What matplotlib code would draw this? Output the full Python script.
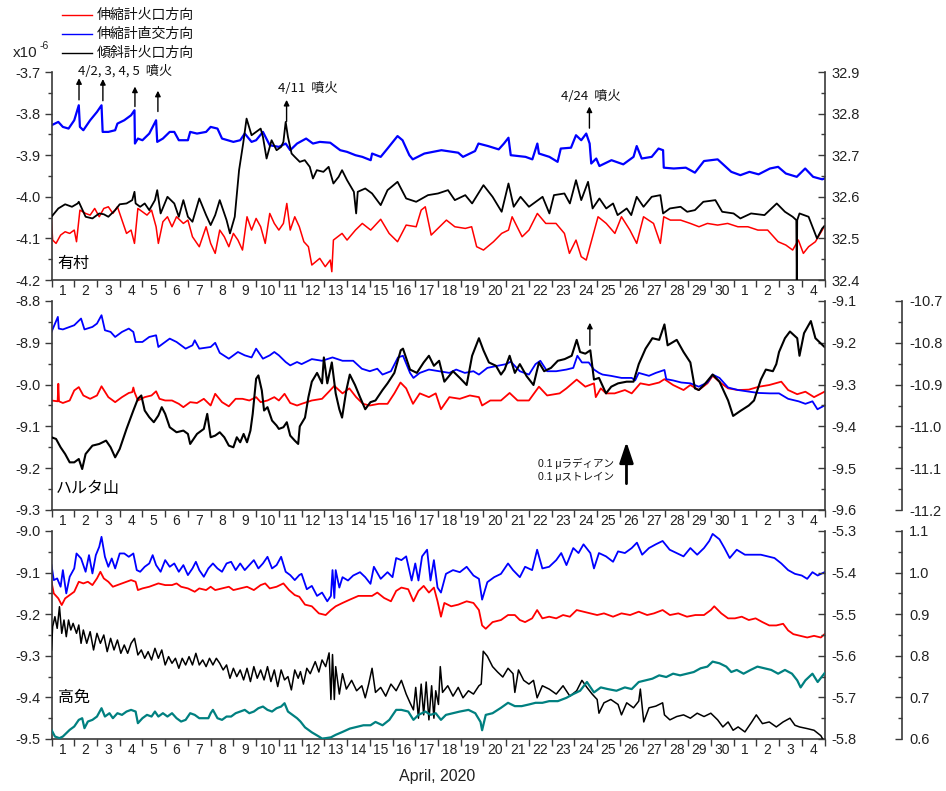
import matplotlib
matplotlib.use("Agg")
import matplotlib.pyplot as plt
from matplotlib.lines import Line2D
from matplotlib.ticker import FixedLocator, FixedFormatter, NullFormatter, FormatStrFormatter

plt.rcParams['font.family'] = ['Liberation Sans', 'Noto Sans CJK JP']
plt.rcParams['axes.unicode_minus'] = False

RED = '#ff0000'
BLUE = '#0000ff'
BLACK = '#000000'
TEAL = '#008080'
SPINE = '#3a3a3a'

N_DAYS = 34
DAY_LABELS = [str(d) for d in range(1, 31)] + ['1', '2', '3', '4']
LEGEND_LABELS = ['伸縮計火口方向', '伸縮計直交方向', '傾斜計火口方向']
STATIONS = ['有村', 'ハルタ山', '高免']

# Time is in days since 2020-04-01 00:00.
# ---------------- 有村 ----------------
ARIMURA_RED = [
    (0, -4.056), (0.05, -4.104), (0.2, -4.112), (0.4, -4.092), (0.6, -4.084), (0.8, -4.088),
    (1.0, -4.08), (1.1, -4.108), (1.25, -4.032), (1.5, -4.04), (1.7, -4.044), (1.9, -4.028),
    (2.1, -4.048), (2.3, -4.028), (2.5, -4.024), (2.7, -4.04), (2.9, -4.024), (3.1, -4.056),
    (3.3, -4.088), (3.5, -4.08), (3.65, -4.112), (3.8, -4.028), (4.0, -4.036), (4.2, -4.044),
    (4.4, -4.032), (4.6, -4.072), (4.7, -4.112), (4.9, -4.06), (5.1, -4.048), (5.3, -4.072),
    (5.5, -4.048), (5.8, -4.064), (6.0, -4.056), (6.2, -4.096), (6.5, -4.12), (6.8, -4.072),
    (7.0, -4.112), (7.2, -4.136), (7.4, -4.08), (7.6, -4.096), (7.8, -4.12), (8.0, -4.088),
    (8.2, -4.104), (8.4, -4.128), (8.6, -4.048), (8.8, -4.08), (9.0, -4.052), (9.2, -4.072),
    (9.4, -4.112), (9.6, -4.04), (9.8, -4.064), (10.0, -4.08), (10.2, -4.064), (10.35, -4.016),
    (10.5, -4.08), (10.7, -4.048), (10.9, -4.072), (11.1, -4.108), (11.3, -4.12), (11.45, -4.164),
    (11.8, -4.148), (12.04, -4.168), (12.26, -4.152), (12.33, -4.18), (12.4, -4.104), (12.78, -4.088),
    (13.0, -4.104), (13.37, -4.08), (13.67, -4.064), (14.04, -4.08), (14.48, -4.054), (14.85, -4.088),
    (15.22, -4.108), (15.6, -4.068), (16.04, -4.072), (16.26, -4.032), (16.44, -4.024), (16.7, -4.092),
    (17.0, -4.076), (17.37, -4.056), (17.74, -4.072), (18.2, -4.076), (18.48, -4.072), (18.7, -4.12),
    (19.0, -4.128), (19.44, -4.108), (19.8, -4.088), (20.1, -4.08), (20.26, -4.048), (20.7, -4.096),
    (21.0, -4.08), (21.37, -4.04), (21.74, -4.064), (22.19, -4.064), (22.56, -4.088), (22.78, -4.136),
    (23.07, -4.104), (23.3, -4.144), (23.52, -4.152), (23.74, -4.108), (24.04, -4.048), (24.4, -4.064),
    (24.78, -4.088), (25.07, -4.048), (25.44, -4.08), (25.74, -4.112), (26.04, -4.048), (26.48, -4.064),
    (26.78, -4.112), (26.93, -4.048), (27.22, -4.056), (27.67, -4.056), (28.1, -4.064), (28.48, -4.072),
    (28.85, -4.064), (29.3, -4.068), (29.74, -4.064), (30.19, -4.072), (30.63, -4.072), (31.07, -4.08),
    (31.5, -4.08), (31.96, -4.108), (32.3, -4.116), (32.6, -4.128), (32.85, -4.104), (33.07, -4.136),
    (33.3, -4.12), (33.6, -4.108), (33.9, -4.08), (34.0, -4.07),
]
ARIMURA_BLUE = [
    (0, -3.828), (0.3, -3.82), (0.5, -3.832), (0.75, -3.836), (1.0, -3.816), (1.2, -3.78),
    (1.25, -3.832), (1.4, -3.84), (1.7, -3.816), (2.0, -3.796), (2.2, -3.78), (2.25, -3.844),
    (2.5, -3.844), (2.8, -3.84), (2.9, -3.824), (3.2, -3.816), (3.5, -3.804), (3.65, -3.792),
    (3.67, -3.872), (3.8, -3.86), (4.0, -3.864), (4.3, -3.848), (4.6, -3.816), (4.65, -3.868),
    (4.9, -3.86), (5.2, -3.844), (5.4, -3.844), (5.6, -3.864), (6.0, -3.864), (6.1, -3.844),
    (6.4, -3.848), (6.8, -3.844), (7.0, -3.832), (7.3, -3.836), (7.5, -3.86), (8.0, -3.868),
    (8.3, -3.864), (8.5, -3.848), (8.8, -3.868), (9.0, -3.864), (9.3, -3.844), (9.6, -3.876),
    (10.0, -3.88), (10.3, -3.872), (10.5, -3.888), (10.8, -3.872), (11.2, -3.86), (11.5, -3.872),
    (11.8, -3.868), (12.26, -3.87), (12.7, -3.888), (13.0, -3.892), (13.37, -3.9), (13.67, -3.904),
    (14.04, -3.912), (14.1, -3.896), (14.48, -3.904), (14.78, -3.884), (15.22, -3.854), (15.44, -3.864),
    (15.74, -3.9), (15.89, -3.91), (16.4, -3.896), (17.15, -3.888), (17.89, -3.894), (18.1, -3.904),
    (18.63, -3.89), (18.78, -3.872), (19.2, -3.878), (19.67, -3.886), (19.9, -3.872), (20.1, -3.858),
    (20.2, -3.9), (20.85, -3.904), (21.15, -3.91), (21.37, -3.872), (21.44, -3.896), (21.9, -3.904),
    (22.26, -3.916), (22.4, -3.884), (22.85, -3.882), (23.07, -3.852), (23.3, -3.864), (23.52, -3.848),
    (23.67, -3.872), (23.74, -3.92), (23.96, -3.908), (24.1, -3.926), (24.63, -3.912), (25.15, -3.922),
    (25.6, -3.904), (25.74, -3.878), (25.96, -3.908), (26.4, -3.904), (26.7, -3.884), (26.9, -3.888),
    (26.93, -3.93), (27.37, -3.932), (27.9, -3.93), (28.3, -3.942), (28.7, -3.914), (29.3, -3.91),
    (29.9, -3.94), (30.3, -3.948), (30.7, -3.94), (31.1, -3.946), (31.6, -3.932), (31.96, -3.928),
    (32.3, -3.944), (32.78, -3.952), (33.15, -3.932), (33.5, -3.952), (33.9, -3.958), (34.0, -3.956),
]
ARIMURA_TILT = [
    (0, 32.552), (0.3, 32.572), (0.6, 32.582), (0.9, 32.576), (1.15, 32.584), (1.2, 32.588),
    (1.3, 32.576), (1.5, 32.552), (1.8, 32.548), (2.1, 32.56), (2.3, 32.558), (2.5, 32.552),
    (2.8, 32.568), (3.0, 32.582), (3.3, 32.584), (3.55, 32.592), (3.65, 32.612), (3.7, 32.584),
    (3.9, 32.576), (4.1, 32.584), (4.3, 32.568), (4.55, 32.592), (4.65, 32.616), (4.8, 32.56),
    (5.1, 32.6), (5.4, 32.584), (5.6, 32.552), (5.8, 32.592), (6.0, 32.552), (6.2, 32.54),
    (6.5, 32.596), (6.8, 32.556), (7.0, 32.532), (7.2, 32.556), (7.4, 32.592), (7.7, 32.544),
    (7.85, 32.512), (8.0, 32.54), (8.06, 32.552), (8.25, 32.664), (8.43, 32.728), (8.58, 32.788),
    (8.8, 32.748), (9.0, 32.756), (9.2, 32.764), (9.3, 32.744), (9.46, 32.692), (9.68, 32.736),
    (9.9, 32.712), (10.1, 32.72), (10.2, 32.732), (10.3, 32.78), (10.4, 32.744), (10.56, 32.704),
    (10.7, 32.696), (10.92, 32.684), (11.14, 32.688), (11.36, 32.672), (11.5, 32.644),
    (11.67, 32.664), (11.96, 32.66), (12.19, 32.672), (12.4, 32.632), (12.63, 32.648), (12.78, 32.664),
    (13.0, 32.64), (13.3, 32.612), (13.4, 32.56), (13.47, 32.612), (13.8, 32.62), (14.1, 32.608),
    (14.48, 32.58), (14.78, 32.616), (15.22, 32.636), (15.6, 32.596), (16.04, 32.588), (16.56, 32.604),
    (17.0, 32.608), (17.44, 32.616), (17.74, 32.592), (18.2, 32.604), (18.5, 32.584), (19.0, 32.628),
    (19.4, 32.6), (19.8, 32.564), (20.1, 32.632), (20.33, 32.576), (20.63, 32.6), (21.0, 32.576),
    (21.6, 32.6), (21.9, 32.56), (22.1, 32.604), (22.56, 32.608), (22.8, 32.584), (23.07, 32.64),
    (23.3, 32.592), (23.6, 32.636), (23.8, 32.572), (24.1, 32.596), (24.4, 32.572), (24.7, 32.584),
    (24.9, 32.556), (25.3, 32.572), (25.5, 32.556), (25.74, 32.6), (26.04, 32.576), (26.4, 32.6),
    (26.78, 32.604), (26.9, 32.56), (27.2, 32.572), (27.67, 32.576), (27.96, 32.564), (28.3, 32.568),
    (28.67, 32.588), (29.2, 32.592), (29.5, 32.564), (30.0, 32.56), (30.3, 32.548), (30.77, 32.56),
    (31.36, 32.556), (31.9, 32.584), (32.26, 32.564), (32.6, 32.552), (32.76, 32.544), (32.78, 32.39),
    (32.8, 32.544), (32.9, 32.56), (33.3, 32.552), (33.67, 32.5), (33.9, 32.524), (34.0, 32.53),
]

# ---------------- ハルタ山 ----------------
HARUTA_RED = [
    (0, -9.038), (0.27, -9.04), (0.3, -8.998), (0.33, -9.04), (0.5, -9.044), (0.8, -9.038),
    (1.0, -9.014), (1.2, -9.006), (1.4, -9.026), (1.7, -9.034), (2.0, -9.026), (2.2, -9.004),
    (2.5, -9.03), (2.8, -9.042), (3.1, -9.03), (3.4, -9.02), (3.55, -9.018), (3.6, -9.007),
    (3.65, -9.018), (3.8, -9.038), (4.1, -9.03), (4.4, -9.026), (4.6, -9.016), (4.75, -9.034),
    (5.0, -9.038), (5.3, -9.038), (5.6, -9.046), (5.8, -9.054), (6.1, -9.042), (6.4, -9.044),
    (6.7, -9.034), (7.0, -9.05), (7.2, -9.022), (7.5, -9.042), (7.8, -9.052), (8.1, -9.034),
    (8.4, -9.034), (8.7, -9.038), (9.0, -9.03), (9.2, -9.042), (9.5, -9.038), (9.8, -9.03),
    (10.0, -9.038), (10.25, -9.022), (10.5, -9.044), (10.8, -9.05),
    (11.0, -9.046), (11.45, -9.038), (11.9, -9.034), (12.2, -9.017), (12.44, -9.003), (12.8, -9.021),
    (13.1, -9.009), (13.4, -9.03), (13.7, -9.046), (14.0, -9.05), (14.4, -9.046), (14.78, -9.046),
    (15.08, -9.021), (15.35, -8.995), (15.6, -9.009), (15.9, -9.046), (16.2, -9.021), (16.6, -9.03),
    (16.9, -9.021), (17.13, -9.059), (17.5, -9.03), (17.96, -9.034), (18.4, -9.026), (18.8, -9.03),
    (18.94, -9.05), (19.3, -9.038), (19.77, -9.038), (20.15, -9.02), (20.5, -9.038), (21.0, -9.038),
    (21.44, -9.005), (21.8, -9.026), (22.35, -9.021), (22.65, -9.009), (23.1, -8.988), (23.48, -9.005),
    (23.86, -8.997), (23.94, -9.03), (24.16, -9.009), (24.39, -9.021), (24.77, -9.021), (25.22, -9.013),
    (25.52, -9.021), (25.9, -8.997), (26.28, -9.001), (26.73, -8.995), (26.96, -8.987), (27.34, -9.001),
    (27.8, -9.013), (28.1, -9.001), (28.47, -9.013), (28.85, -8.997), (29.08, -8.979), (29.46, -8.997),
    (29.76, -9.009), (30.2, -9.013), (30.67, -9.012), (31.12, -9.005), (31.57, -9.001), (32.1, -8.993),
    (32.4, -9.013), (32.8, -9.023), (33.16, -9.017), (33.54, -9.03), (34.0, -9.017),
]
HARUTA_BLUE = [
    (0, -8.874), (0.28, -8.838), (0.32, -8.866), (0.5, -8.868), (1.0, -8.858), (1.3, -8.842),
    (1.45, -8.868), (1.8, -8.862), (2.0, -8.854), (2.2, -8.834), (2.35, -8.87), (2.6, -8.874),
    (2.8, -8.886), (3.1, -8.874), (3.4, -8.866), (3.6, -8.874), (3.7, -8.898), (4.0, -8.898),
    (4.3, -8.886), (4.6, -8.882), (4.7, -8.91), (5.0, -8.898), (5.2, -8.89), (5.5, -8.898),
    (5.9, -8.914), (6.2, -8.906), (6.3, -8.894), (6.5, -8.914), (7.0, -8.91), (7.2, -8.9),
    (7.4, -8.924), (7.8, -8.938), (8.2, -8.922), (8.5, -8.93), (8.8, -8.935), (9.0, -8.914),
    (9.3, -8.938), (9.6, -8.93), (9.8, -8.922), (10.0, -8.93), (10.3, -8.946), (10.5, -8.954),
    (10.8, -8.946),
    (11.0, -8.951), (11.45, -8.939), (11.9, -8.943), (12.36, -8.935), (12.8, -8.943), (13.27, -8.943),
    (13.65, -8.962), (14.0, -8.968), (14.33, -8.962), (14.56, -8.976), (14.93, -8.968), (15.24, -8.935),
    (15.46, -8.931), (15.77, -8.972), (15.92, -8.984), (16.2, -8.972), (16.6, -8.964), (17.05, -8.968),
    (17.5, -8.972), (17.8, -8.964), (18.18, -8.972), (18.56, -8.968), (18.8, -8.976), (19.17, -8.96),
    (19.62, -8.955), (20.0, -8.951), (20.2, -8.945), (20.6, -8.968), (21.0, -8.976), (21.29, -8.951),
    (21.5, -8.943), (21.8, -8.968), (22.2, -8.968), (22.65, -8.964), (22.95, -8.96), (23.13, -8.931),
    (23.33, -8.947), (23.63, -8.947), (23.86, -8.964), (24.08, -8.972), (24.24, -8.976), (24.6, -8.979),
    (25.07, -8.984), (25.52, -8.984), (25.67, -8.99), (25.83, -8.972), (26.28, -8.979), (26.58, -8.972),
    (26.96, -8.965), (27.04, -8.987), (27.34, -8.99), (27.7, -8.995), (28.1, -8.997), (28.47, -9.005),
    (28.85, -8.995), (29.08, -8.976), (29.38, -8.984), (29.76, -9.007), (30.2, -9.013), (30.7, -9.017),
    (31.1, -9.02), (31.6, -9.021), (32.0, -9.021), (32.4, -9.034), (32.86, -9.04), (33.16, -9.046),
    (33.47, -9.04), (33.69, -9.059), (34.0, -9.05),
]
HARUTA_TILT = [
    (0, -9.426), (0.2, -9.43), (0.4, -9.45), (0.6, -9.466), (0.8, -9.486), (1.0, -9.486),
    (1.2, -9.478), (1.35, -9.502), (1.5, -9.466), (1.8, -9.446), (2.1, -9.442), (2.4, -9.434),
    (2.6, -9.45), (2.8, -9.474), (3.0, -9.454), (3.3, -9.406), (3.6, -9.362), (3.8, -9.334),
    (3.95, -9.326), (4.1, -9.362), (4.3, -9.378), (4.5, -9.39), (4.7, -9.374), (4.85, -9.354),
    (5.0, -9.37), (5.2, -9.402), (5.5, -9.414), (5.8, -9.41), (6.0, -9.418), (6.1, -9.442),
    (6.4, -9.418), (6.7, -9.406), (6.85, -9.37), (7.0, -9.426), (7.2, -9.422), (7.4, -9.414),
    (7.6, -9.426), (7.8, -9.446), (8.0, -9.45), (8.15, -9.426), (8.3, -9.438), (8.45, -9.418),
    (8.6, -9.438), (8.75, -9.41), (8.85, -9.37), (9.0, -9.286), (9.1, -9.278), (9.25, -9.314),
    (9.35, -9.362), (9.5, -9.354), (9.7, -9.386), (9.9, -9.398), (10.0, -9.406), (10.2, -9.402),
    (10.35, -9.39), (10.5, -9.422), (10.7, -9.434), (10.85, -9.442),
    (10.92, -9.4), (11.15, -9.379), (11.3, -9.33), (11.45, -9.293), (11.68, -9.272), (11.9, -9.297),
    (11.98, -9.235), (12.13, -9.297), (12.33, -9.247), (12.5, -9.321), (12.66, -9.359), (12.78, -9.379),
    (12.97, -9.313), (13.12, -9.276), (13.35, -9.301), (13.57, -9.33), (13.8, -9.359), (14.03, -9.342),
    (14.25, -9.338), (14.56, -9.313), (14.78, -9.297), (15.08, -9.272), (15.36, -9.218), (15.46, -9.214),
    (15.77, -9.264), (16.07, -9.272), (16.37, -9.247), (16.6, -9.231), (16.82, -9.255), (17.05, -9.243),
    (17.28, -9.293), (17.66, -9.268), (17.96, -9.284), (18.26, -9.301), (18.5, -9.231), (18.8, -9.189),
    (19.0, -9.218), (19.24, -9.247), (19.55, -9.255), (19.77, -9.276), (19.93, -9.264), (20.15, -9.231),
    (20.38, -9.272), (20.6, -9.251), (20.9, -9.28), (21.2, -9.301), (21.44, -9.247), (21.67, -9.268),
    (21.97, -9.26), (22.27, -9.243), (22.57, -9.239), (22.88, -9.231), (23.1, -9.193), (23.25, -9.222),
    (23.48, -9.226), (23.7, -9.218), (23.86, -9.288), (24.08, -9.284), (24.39, -9.321), (24.62, -9.305),
    (24.92, -9.297), (25.3, -9.293), (25.6, -9.293), (25.83, -9.251), (26.13, -9.214), (26.43, -9.189),
    (26.73, -9.193), (26.96, -9.156), (27.1, -9.206), (27.5, -9.193), (27.8, -9.222), (28.1, -9.247),
    (28.3, -9.309), (28.47, -9.313), (28.7, -9.301), (29.08, -9.276), (29.38, -9.293), (29.76, -9.338),
    (29.98, -9.375), (30.3, -9.363), (30.67, -9.35), (30.9, -9.338), (31.2, -9.288), (31.42, -9.264),
    (31.73, -9.268), (31.88, -9.251), (32.0, -9.222), (32.26, -9.189), (32.48, -9.173), (32.8, -9.189),
    (32.9, -9.231), (33.1, -9.177), (33.4, -9.148), (33.6, -9.189), (34.0, -9.21),
]

# ---------------- 高免 ----------------
KOMEN_RED = [
    (0, -9.122), (0.1, -9.15), (0.3, -9.162), (0.45, -9.178), (0.6, -9.162), (0.8, -9.154),
    (1.0, -9.146), (1.2, -9.122), (1.4, -9.126), (1.6, -9.122), (1.8, -9.13), (2.0, -9.114),
    (2.15, -9.098), (2.3, -9.114), (2.5, -9.122), (2.7, -9.134), (2.9, -9.13), (3.1, -9.126),
    (3.3, -9.122), (3.5, -9.118), (3.7, -9.122), (3.8, -9.142), (4.0, -9.138), (4.3, -9.134),
    (4.5, -9.13), (4.7, -9.126), (5.0, -9.13), (5.3, -9.13), (5.5, -9.126), (5.7, -9.134),
    (6.0, -9.138), (6.3, -9.146), (6.5, -9.138), (6.8, -9.142), (7.0, -9.134), (7.2, -9.142),
    (7.5, -9.138), (7.8, -9.134), (8.0, -9.142), (8.3, -9.138), (8.6, -9.134), (8.9, -9.142),
    (9.2, -9.13), (9.4, -9.126), (9.6, -9.138), (9.9, -9.134), (10.2, -9.126), (10.45, -9.142),
    (10.7, -9.154), (10.9, -9.158),
    (11.15, -9.177), (11.45, -9.181), (11.76, -9.198), (12.06, -9.202), (12.29, -9.19), (12.5, -9.181),
    (12.8, -9.173), (13.12, -9.165), (13.5, -9.156), (13.8, -9.156), (14.1, -9.156), (14.33, -9.148),
    (14.63, -9.161), (14.93, -9.169), (15.16, -9.144), (15.39, -9.136), (15.69, -9.14), (15.92, -9.169),
    (16.14, -9.144), (16.37, -9.132), (16.6, -9.148), (16.82, -9.136), (16.98, -9.169), (17.13, -9.206),
    (17.28, -9.173), (17.58, -9.181), (17.89, -9.177), (18.26, -9.169), (18.56, -9.173), (18.8, -9.19),
    (18.94, -9.227), (19.1, -9.235), (19.4, -9.219), (19.77, -9.214), (20.08, -9.202), (20.38, -9.202),
    (20.6, -9.214), (20.83, -9.219), (21.14, -9.21), (21.36, -9.19), (21.59, -9.21), (21.89, -9.206),
    (22.2, -9.21), (22.5, -9.202), (22.8, -9.206), (23.1, -9.19), (23.4, -9.194), (23.7, -9.198),
    (24.0, -9.202), (24.3, -9.198), (24.7, -9.206), (25.07, -9.198), (25.45, -9.202), (25.83, -9.194),
    (26.2, -9.202), (26.5, -9.198), (26.88, -9.19), (27.2, -9.202), (27.57, -9.198), (27.95, -9.206),
    (28.32, -9.202), (28.7, -9.202), (29.0, -9.19), (29.15, -9.181), (29.46, -9.198), (29.76, -9.21),
    (30.06, -9.21), (30.36, -9.206), (30.67, -9.214), (30.97, -9.21), (31.27, -9.219), (31.57, -9.227),
    (31.88, -9.227), (32.18, -9.223), (32.4, -9.239), (32.63, -9.248), (32.93, -9.252), (33.24, -9.256),
    (33.54, -9.252), (33.84, -9.256), (34.0, -9.248),
]
KOMEN_BLUE = [
    (0, -9.082), (0.1, -9.118), (0.25, -9.114), (0.4, -9.134), (0.5, -9.094), (0.65, -9.15),
    (0.8, -9.11), (1.0, -9.09), (1.1, -9.054), (1.3, -9.066), (1.5, -9.098), (1.65, -9.058),
    (1.8, -9.102), (1.95, -9.058), (2.1, -9.038), (2.2, -9.014), (2.35, -9.062), (2.5, -9.086),
    (2.65, -9.066), (2.8, -9.09), (3.0, -9.054), (3.2, -9.054), (3.4, -9.062), (3.6, -9.054),
    (3.75, -9.094), (3.9, -9.098), (4.1, -9.086), (4.3, -9.078), (4.45, -9.058), (4.6, -9.082),
    (4.8, -9.098), (5.0, -9.07), (5.2, -9.086), (5.4, -9.078), (5.6, -9.098), (5.8, -9.082),
    (6.0, -9.106), (6.2, -9.09), (6.35, -9.074), (6.5, -9.094), (6.7, -9.11), (6.9, -9.09),
    (7.1, -9.078), (7.3, -9.09), (7.5, -9.098), (7.7, -9.078), (7.9, -9.074), (8.1, -9.094),
    (8.3, -9.078), (8.5, -9.094), (8.7, -9.082), (8.9, -9.07), (9.1, -9.09), (9.3, -9.078),
    (9.5, -9.062), (9.7, -9.09), (9.9, -9.082), (10.1, -9.062), (10.3, -9.098), (10.5, -9.106),
    (10.7, -9.118), (10.9, -9.106),
    (11.0, -9.103), (11.23, -9.14), (11.45, -9.132), (11.68, -9.156), (11.9, -9.148), (12.13, -9.169),
    (12.29, -9.156), (12.36, -9.094), (12.44, -9.161), (12.5, -9.094), (12.66, -9.136), (12.8, -9.111),
    (13.04, -9.119), (13.27, -9.107), (13.57, -9.099), (13.8, -9.111), (14.03, -9.127), (14.18, -9.086),
    (14.48, -9.115), (14.78, -9.099), (15.0, -9.111), (15.16, -9.065), (15.39, -9.07), (15.6, -9.061),
    (15.84, -9.119), (16.0, -9.078), (16.14, -9.119), (16.3, -9.061), (16.52, -9.045), (16.67, -9.119),
    (16.82, -9.07), (16.98, -9.136), (17.13, -9.148), (17.35, -9.103), (17.66, -9.094), (17.96, -9.099),
    (18.26, -9.086), (18.56, -9.107), (18.8, -9.115), (18.94, -9.165), (19.17, -9.123), (19.47, -9.111),
    (19.77, -9.103), (20.08, -9.078), (20.3, -9.094), (20.6, -9.111), (20.83, -9.086), (21.14, -9.094),
    (21.36, -9.045), (21.59, -9.09), (21.89, -9.086), (22.2, -9.07), (22.42, -9.053), (22.65, -9.082),
    (22.95, -9.041), (23.18, -9.053), (23.4, -9.032), (23.7, -9.053), (23.86, -9.09), (24.08, -9.053),
    (24.39, -9.061), (24.7, -9.074), (24.92, -9.049), (25.22, -9.053), (25.52, -9.041), (25.75, -9.028),
    (25.98, -9.057), (26.28, -9.041), (26.58, -9.032), (26.88, -9.024), (27.19, -9.045), (27.5, -9.053),
    (27.8, -9.061), (28.1, -9.041), (28.4, -9.057), (28.7, -9.041), (28.93, -9.024), (29.08, -9.007),
    (29.38, -9.02), (29.6, -9.041), (29.83, -9.065), (30.14, -9.045), (30.5, -9.057), (30.9, -9.057),
    (31.2, -9.057), (31.5, -9.061), (31.8, -9.065), (32.1, -9.078), (32.4, -9.094), (32.7, -9.103),
    (33.0, -9.107), (33.24, -9.115), (33.47, -9.099), (33.7, -9.107), (34.0, -9.099),
]
KOMEN_TILT = [
    (0, -5.586), (0.05, -5.53), (0.15, -5.506), (0.25, -5.534), (0.35, -5.482), (0.45, -5.546),
    (0.55, -5.514), (0.65, -5.554), (0.75, -5.514), (0.85, -5.538), (0.95, -5.522), (1.1, -5.546),
    (1.2, -5.526), (1.3, -5.57), (1.4, -5.538), (1.55, -5.57), (1.7, -5.542), (1.85, -5.586),
    (2.0, -5.546), (2.15, -5.57), (2.3, -5.55), (2.45, -5.59), (2.6, -5.558), (2.75, -5.586),
    (2.9, -5.562), (3.05, -5.594), (3.2, -5.574), (3.35, -5.594), (3.5, -5.57), (3.65, -5.558),
    (3.8, -5.598), (3.95, -5.586), (4.1, -5.606), (4.25, -5.59), (4.4, -5.61), (4.55, -5.582),
    (4.7, -5.606), (4.85, -5.586), (5.0, -5.622), (5.15, -5.602), (5.3, -5.618), (5.45, -5.606),
    (5.6, -5.63), (5.75, -5.606), (5.9, -5.622), (6.05, -5.602), (6.2, -5.622), (6.35, -5.594),
    (6.5, -5.622), (6.65, -5.61), (6.8, -5.626), (6.95, -5.606), (7.1, -5.622), (7.25, -5.606),
    (7.4, -5.618), (7.55, -5.634), (7.7, -5.622), (7.85, -5.654), (8.0, -5.63), (8.15, -5.65),
    (8.3, -5.634), (8.45, -5.658), (8.6, -5.63), (8.75, -5.662), (8.9, -5.626), (9.05, -5.654),
    (9.2, -5.634), (9.35, -5.658), (9.5, -5.626), (9.65, -5.662), (9.8, -5.634), (9.95, -5.674),
    (10.1, -5.634), (10.25, -5.658), (10.4, -5.65), (10.55, -5.682), (10.7, -5.634), (10.85, -5.654),
    (10.95, -5.638),
    (11.08, -5.668), (11.23, -5.63), (11.38, -5.643), (11.6, -5.614), (11.76, -5.639), (11.9, -5.61),
    (12.06, -5.626), (12.21, -5.593), (12.29, -5.705), (12.36, -5.597), (12.44, -5.705), (12.5, -5.626),
    (12.66, -5.692), (12.8, -5.643), (12.97, -5.68), (13.2, -5.659), (13.42, -5.684), (13.65, -5.672),
    (13.8, -5.701), (13.95, -5.668), (14.1, -5.63), (14.25, -5.688), (14.48, -5.676), (14.7, -5.697),
    (14.93, -5.668), (15.16, -5.684), (15.39, -5.659), (15.6, -5.692), (15.77, -5.713), (15.92, -5.73),
    (16.02, -5.676), (16.14, -5.75), (16.26, -5.668), (16.37, -5.742), (16.48, -5.663), (16.6, -5.754),
    (16.72, -5.672), (16.82, -5.75), (16.9, -5.684), (17.02, -5.717), (17.1, -5.626), (17.2, -5.688),
    (17.43, -5.672), (17.66, -5.697), (17.89, -5.676), (18.1, -5.701), (18.34, -5.684), (18.56, -5.692),
    (18.8, -5.672), (18.9, -5.668), (18.99, -5.589), (19.17, -5.601), (19.4, -5.626), (19.62, -5.639),
    (19.85, -5.651), (20.08, -5.63), (20.3, -5.643), (20.38, -5.688), (20.54, -5.634), (20.77, -5.659),
    (21.0, -5.668), (21.2, -5.659), (21.36, -5.701), (21.59, -5.672), (21.89, -5.68), (22.2, -5.692),
    (22.5, -5.672), (22.8, -5.697), (23.1, -5.684), (23.33, -5.659), (23.55, -5.676), (23.78, -5.692),
    (24.0, -5.705), (24.08, -5.738), (24.3, -5.713), (24.6, -5.705), (24.92, -5.717), (25.07, -5.742),
    (25.3, -5.713), (25.6, -5.725), (25.83, -5.709), (25.9, -5.68), (26.05, -5.759), (26.28, -5.725),
    (26.58, -5.721), (26.88, -5.713), (26.96, -5.742), (27.2, -5.754), (27.5, -5.746), (27.8, -5.742),
    (28.1, -5.75), (28.4, -5.738), (28.7, -5.746), (29.0, -5.738), (29.3, -5.754), (29.53, -5.771),
    (29.76, -5.759), (29.98, -5.779), (30.2, -5.771), (30.5, -5.783), (30.8, -5.759), (31.0, -5.742),
    (31.27, -5.763), (31.57, -5.759), (31.88, -5.771), (32.18, -5.759), (32.48, -5.75), (32.7, -5.767),
    (32.9, -5.771), (33.24, -5.775), (33.54, -5.779), (33.84, -5.792), (34.0, -5.808),
]
KOMEN_TILT2 = [
    (0, 0.622), (0.15, 0.606), (0.35, 0.602), (0.5, 0.606), (0.65, 0.614), (0.8, 0.622),
    (1.0, 0.63), (1.2, 0.646), (1.35, 0.65), (1.45, 0.626), (1.6, 0.642), (1.8, 0.646),
    (2.0, 0.654), (2.2, 0.674), (2.35, 0.654), (2.55, 0.662), (2.7, 0.65), (2.9, 0.662),
    (3.1, 0.658), (3.3, 0.666), (3.5, 0.67), (3.7, 0.666), (3.8, 0.638), (4.0, 0.65),
    (4.2, 0.658), (4.4, 0.654), (4.55, 0.666), (4.7, 0.654), (4.9, 0.662), (5.1, 0.654),
    (5.3, 0.662), (5.5, 0.65), (5.7, 0.642), (5.9, 0.646), (6.1, 0.662), (6.3, 0.658),
    (6.5, 0.65), (6.7, 0.65), (6.9, 0.65), (7.0, 0.662), (7.1, 0.67), (7.3, 0.65),
    (7.5, 0.646), (7.7, 0.654), (7.9, 0.654), (8.1, 0.662), (8.3, 0.666), (8.5, 0.67),
    (8.7, 0.662), (8.9, 0.666), (9.1, 0.674), (9.3, 0.678), (9.5, 0.67), (9.7, 0.666),
    (9.9, 0.674), (10.1, 0.678), (10.25, 0.686), (10.4, 0.666), (10.6, 0.658), (10.8, 0.65),
    (10.95, 0.642),
    (11.15, 0.628), (11.45, 0.616), (11.76, 0.606), (11.9, 0.601), (12.06, 0.602), (12.29, 0.604),
    (12.5, 0.61), (12.8, 0.617), (13.12, 0.625), (13.42, 0.629), (13.72, 0.633), (14.03, 0.633),
    (14.25, 0.641), (14.56, 0.633), (14.86, 0.646), (15.16, 0.67), (15.39, 0.67), (15.69, 0.666),
    (15.92, 0.646), (16.14, 0.658), (16.45, 0.666), (16.67, 0.658), (16.9, 0.662), (17.13, 0.646),
    (17.35, 0.658), (17.66, 0.662), (17.96, 0.666), (18.34, 0.67), (18.64, 0.662), (18.87, 0.641),
    (18.94, 0.621), (19.1, 0.658), (19.4, 0.662), (19.77, 0.675), (20.08, 0.687), (20.38, 0.679),
    (20.68, 0.679), (21.0, 0.683), (21.29, 0.687), (21.59, 0.687), (21.89, 0.691), (22.27, 0.691),
    (22.65, 0.699), (22.95, 0.708), (23.25, 0.716), (23.55, 0.737), (23.86, 0.712), (24.16, 0.724),
    (24.47, 0.72), (24.85, 0.716), (25.22, 0.724), (25.52, 0.72), (25.83, 0.737), (26.13, 0.741),
    (26.43, 0.745), (26.73, 0.753), (27.04, 0.749), (27.34, 0.757), (27.65, 0.753), (27.95, 0.757),
    (28.25, 0.761), (28.55, 0.77), (28.85, 0.774), (29.08, 0.786), (29.38, 0.782), (29.68, 0.774),
    (29.9, 0.761), (30.14, 0.766), (30.44, 0.757), (30.75, 0.766), (31.05, 0.774), (31.36, 0.77),
    (31.66, 0.766), (31.96, 0.757), (32.26, 0.766), (32.57, 0.757), (32.8, 0.741), (32.95, 0.724),
    (33.16, 0.741), (33.47, 0.757), (33.7, 0.737), (34.0, 0.758),
]

# eruption times (days since 2020-04-01)
ERUPTIONS_EARLY = [1.21, 2.26, 3.67, 4.68]
ERUPTION_0411 = 10.34
ERUPTION_0424 = 23.66
SCALE_VALUE = 0.1  # length of the scale arrow (μradian / μstrain)


def xy(pairs):
    return [p[0] for p in pairs], [p[1] for p in pairs]


def ticks_for(lo, hi):
    n = int(round((hi - lo) / 0.1))
    major = [round(lo + 0.1 * i, 2) for i in range(n + 1)]
    minor = [round(lo + 0.05 + 0.1 * i, 3) for i in range(n)]
    return major, minor


fig = plt.figure(figsize=(9.46, 7.91), dpi=100)
W, H = 946.0, 791.0


def rect(x0, y0, x1, y1):
    return [x0 / W, 1 - y1 / H, (x1 - x0) / W, (y1 - y0) / H]


def style_main(ax, lo, hi):
    ax.set_xlim(0, N_DAYS)
    ax.set_ylim(lo, hi)
    ax.spines['top'].set_visible(False)
    ax.spines['right'].set_visible(False)
    for s in ('left', 'bottom'):
        ax.spines[s].set_color(SPINE)
        ax.spines[s].set_linewidth(1.2)
    ax.xaxis.set_major_locator(FixedLocator(list(range(0, N_DAYS + 1))))
    ax.xaxis.set_major_formatter(NullFormatter())
    ax.xaxis.set_minor_locator(FixedLocator([d + 0.5 for d in range(N_DAYS)]))
    ax.xaxis.set_minor_formatter(FixedFormatter(DAY_LABELS))
    ax.tick_params(axis='x', which='major', direction='out', length=5, width=1.0, color=SPINE)
    ax.tick_params(axis='x', which='minor', length=0, pad=3, labelsize=10, labelcolor='#222222')
    major, minor = ticks_for(lo, hi)
    ax.yaxis.set_major_locator(FixedLocator(major))
    ax.yaxis.set_minor_locator(FixedLocator(minor))
    ax.yaxis.set_major_formatter(FormatStrFormatter('%.1f'))
    ax.tick_params(axis='y', which='major', direction='out', length=5, width=1.0,
                   color=SPINE, labelsize=10.5, pad=3, labelcolor='#222222')
    ax.tick_params(axis='y', which='minor', direction='out', length=3, width=1.0, color=SPINE)


def style_right(ax, lo, hi, pos=None):
    ax.set_ylim(lo, hi)
    for s in ('top', 'left', 'bottom'):
        ax.spines[s].set_visible(False)
    ax.spines['right'].set_color(SPINE)
    ax.spines['right'].set_linewidth(1.2)
    if pos is not None:
        ax.spines['right'].set_position(('axes', pos))
    major, minor = ticks_for(lo, hi)
    ax.yaxis.set_major_locator(FixedLocator(major))
    ax.yaxis.set_minor_locator(FixedLocator(minor))
    ax.yaxis.set_major_formatter(FormatStrFormatter('%.1f'))
    ax.tick_params(axis='y', which='major', direction='in', length=5, width=1.0,
                   color=SPINE, labelsize=10.5, pad=5, labelcolor='#222222')
    ax.tick_params(axis='y', which='minor', direction='in', length=3, width=1.0, color=SPINE)


THIRD_POS = 1 + 77.5 / 773.0
LW = 1.3

# ---- 有村 ----
ax1 = fig.add_axes(rect(51.5, 72, 824.5, 280))
style_main(ax1, -4.2, -3.7)
ax1.plot(*xy(ARIMURA_RED), color=RED, lw=1.1)
ax1.plot(*xy(ARIMURA_BLUE), color=BLUE, lw=1.6)
ax1r = ax1.twinx()
style_right(ax1r, 32.4, 32.9)
ax1r.plot(*xy(ARIMURA_TILT), color=BLACK, lw=LW)

arrow_kw = dict(arrowstyle='-|>', color='black', lw=1.0, mutation_scale=8, shrinkA=0, shrinkB=0)
for t, tail, tip in zip(ERUPTIONS_EARLY, [-3.767, -3.769, -3.783, -3.795], [-3.715, -3.717, -3.735, -3.745]):
    ax1.annotate('', xy=(t, tip), xytext=(t, tail), arrowprops=arrow_kw, annotation_clip=False)
ax1.annotate('', xy=(ERUPTION_0411, -3.767), xytext=(ERUPTION_0411, -3.819), arrowprops=arrow_kw)
ax1.annotate('', xy=(ERUPTION_0424, -3.783), xytext=(ERUPTION_0424, -3.835), arrowprops=arrow_kw)

note_font = dict(family=['Noto Sans CJK JP'], fontsize=9.5, color='#111111')
ax1.text(1.16, -3.697, '4/2, 3, 4, 5  噴火', va='center', ha='left', **note_font)
ax1.text(9.96, -3.739, '4/11  噴火', va='center', ha='left', **note_font)
ax1.text(22.42, -3.758, '4/24  噴火', va='center', ha='left', **note_font)
ax1.text(0.008, 0.077, STATIONS[0], transform=ax1.transAxes, fontsize=11.5, va='center', ha='left')

# ---- ハルタ山 ----
ax2 = fig.add_axes(rect(51.5, 301, 824.5, 510))
style_main(ax2, -9.3, -8.8)
ax2.plot(*xy(HARUTA_RED), color=RED, lw=LW)
ax2.plot(*xy(HARUTA_BLUE), color=BLUE, lw=LW)
ax2r = ax2.twinx()
style_right(ax2r, -9.6, -9.1)
ax2r.plot(*xy(HARUTA_TILT), color=BLACK, lw=1.5)
ax2r3 = ax2.twinx()
style_right(ax2r3, -11.2, -10.7, THIRD_POS)

ax2.annotate('', xy=(ERUPTION_0424 + 0.02, -8.852), xytext=(ERUPTION_0424 + 0.02, -8.906), arrowprops=arrow_kw)
scale_t = 25.29
scale_base = -9.237
ax2.annotate('', xy=(scale_t, scale_base + SCALE_VALUE), xytext=(scale_t, scale_base),
             arrowprops=dict(arrowstyle='-|>,head_length=0.9,head_width=0.3', color='black',
                             lw=2.0, mutation_scale=14, shrinkA=0, shrinkB=0))
scale_font = dict(fontsize=7.6, color='#111111', ha='right', va='center')
ax2.text(24.75, -9.189, '0.1 μラディアン', **scale_font)
ax2.text(24.75, -9.220, '0.1 μストレイン', **scale_font)
ax2.text(0.006, 0.105, STATIONS[1], transform=ax2.transAxes, fontsize=11.5, va='center', ha='left')

# ---- 高免 ----
ax3 = fig.add_axes(rect(51.5, 531, 824.5, 739))
style_main(ax3, -9.5, -9.0)
ax3.plot(*xy(KOMEN_RED), color=RED, lw=LW)
ax3.plot(*xy(KOMEN_BLUE), color=BLUE, lw=LW)
ax3r = ax3.twinx()
style_right(ax3r, -5.8, -5.3)
ax3r.plot(*xy(KOMEN_TILT), color=BLACK, lw=1.1)
ax3r3 = ax3.twinx()
style_right(ax3r3, 0.6, 1.1, THIRD_POS)
ax3r3.plot(*xy(KOMEN_TILT2), color=TEAL, lw=1.6)
ax3.text(0.008, 0.2, STATIONS[2], transform=ax3.transAxes, fontsize=11.5, va='center', ha='left')

fig.text(437 / W, 1 - 777 / H, 'April, 2020', ha='center', va='center', fontsize=11.5, color='#222222')

# ---- legend ----
for i, (label, color) in enumerate(zip(LEGEND_LABELS, [RED, BLUE, BLACK])):
    yy = 1 - (15 + 19 * i) / H
    fig.add_artist(Line2D([62 / W, 92 / W], [yy, yy], color=color, lw=1.0, transform=fig.transFigure))
    fig.text(97 / W, yy, label, ha='left', va='center', fontsize=10, color='#111111')

# ---- unit label ----
fig.text(13 / W, 1 - 53 / H, 'x10', ha='left', va='center', fontsize=11, color='#222222')
fig.text(39.5 / W, 1 - 46 / H, '-6', ha='left', va='center', fontsize=7.5, color='#222222')

fig.savefig('out.png', dpi=100)
